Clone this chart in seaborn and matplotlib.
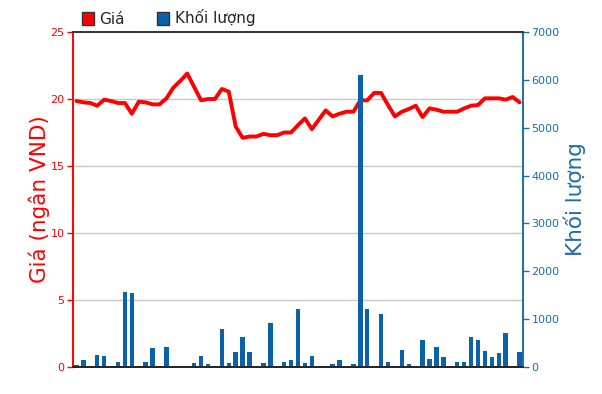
import matplotlib
matplotlib.use("Agg")
import matplotlib.pyplot as plt
import seaborn as sns
import numpy as np
import pandas as pd
from matplotlib.patches import Rectangle

# ---------------- data ----------------
dates = pd.bdate_range("2012-09-25", "2012-12-24").strftime("%d/%m/%Y").tolist()

price = [19.85, 19.75, 19.7, 19.5, 19.95, 19.85, 19.7, 19.7, 18.9, 19.8,
         19.75, 19.6, 19.6, 20.05, 20.85, 21.35, 21.9, 20.9, 19.9, 20.0,
         20.0, 20.75, 20.55, 17.95, 17.1, 17.2, 17.2, 17.4, 17.3, 17.3,
         17.5, 17.5, 18.05, 18.55, 17.75, 18.45, 19.15, 18.7, 18.9, 19.05,
         19.05, 19.9, 19.9, 20.45, 20.45, 19.55, 18.7, 19.05, 19.25, 19.5,
         18.65, 19.3, 19.2, 19.05, 19.05, 19.05, 19.3, 19.5, 19.55, 20.05,
         20.05, 20.05, 19.95, 20.15, 19.75]

volume = [50, 140, 0, 250, 230, 0, 110, 1575, 1545, 0,
          110, 400, 0, 425, 0, 0, 0, 85, 230, 55,
          30, 795, 80, 305, 620, 305, 0, 80, 925, 0,
          110, 140, 1205, 80, 230, 0, 0, 55, 140, 0,
          55, 6100, 1205, 0, 1100, 110, 0, 360, 55, 30,
          555, 165, 425, 200, 30, 110, 110, 620, 555, 335,
          200, 285, 705, 0, 305]

tick_idx = [0, 10, 20, 30, 40, 50, 60]
tick_labels = [dates[i] for i in tick_idx]

RED = "#FF0000"
BLUE = "#0A62A8"
BLUE_AX = "#1A6EA8"

df = pd.DataFrame({"idx": np.arange(len(dates)), "price": price, "volume": volume})

# ---------------- figure ----------------
sns.set_style("white")
plt.rcParams["font.family"] = ["DejaVu Sans"]

fig = plt.figure(figsize=(6.02, 3.94), dpi=100)
ax = fig.add_axes([73 / 602, 27 / 394, 450 / 602, 335 / 394])
ax2 = ax.twinx()

# price line (left axis)
sns.lineplot(data=df, x="idx", y="price", ax=ax, color=RED, linewidth=2.8)
ax.set_ylim(0, 25)
ax.set_yticks([0, 5, 10, 15, 20, 25])
ax.yaxis.grid(True, color="#C8C8C8", linewidth=1)
ax.set_axisbelow(True)

# volume bars (right axis)
sns.barplot(data=df, x="idx", y="volume", ax=ax2, color=BLUE, width=0.65,
            saturation=1, linewidth=0)
ax2.set_ylim(0, 7000)
ax2.set_yticks(range(0, 7001, 1000))

for a in (ax, ax2):
    a.set_xlim(-0.5, len(dates) - 0.5)
    a.set_xlabel("")
ax.set_xticks(tick_idx)
ax.set_xticklabels(tick_labels)
ax2.set_xticks([])

# spines / colors
for a in (ax, ax2):
    a.spines["top"].set_color("#333333")
    a.spines["bottom"].set_color("#222222")
    a.spines["left"].set_color(RED)
    a.spines["right"].set_color(BLUE_AX)
    for s in a.spines.values():
        s.set_linewidth(1.2)

ax.tick_params(axis="y", colors=RED, labelsize=8, length=4, width=1, direction="out", pad=2)
ax.tick_params(axis="x", colors="#111111", labelsize=7.6, length=4, width=1, direction="out", pad=1)
ax2.tick_params(axis="y", colors=BLUE_AX, labelsize=8, length=4, width=1, direction="out", pad=2)

ax.set_ylabel("Giá (ngân VND)", color=RED, fontsize=15.5)
ax.yaxis.set_label_coords((50 - 73) / 450, 0.5)
ax2.set_ylabel("Khối lượng", color=BLUE_AX, fontsize=15.5)
ax2.yaxis.set_label_coords((563 - 73) / 450, 0.5)

# legend
handles = [Rectangle((0, 0), 1, 1, facecolor=RED, edgecolor="#333333", linewidth=1),
           Rectangle((0, 0), 1, 1, facecolor=BLUE, edgecolor="#333333", linewidth=1)]
fig.legend(handles, ["Giá", "Khối lượng"], loc="center left",
           bbox_to_anchor=(82 / 602, 1 - 18 / 394), ncol=2, frameon=False,
           fontsize=11, handlelength=0.8, handleheight=0.9, handletextpad=0.35,
           columnspacing=2.1, borderaxespad=0, borderpad=0)

fig.savefig("out.png", dpi=100)
